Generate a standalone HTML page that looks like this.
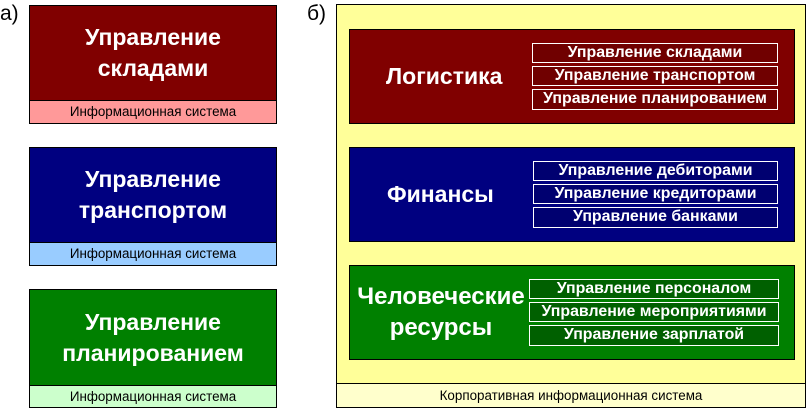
<!DOCTYPE html><html><head><meta charset="utf-8"><style>
body{margin:0;width:807px;height:408px;background:#fff;position:relative;font-family:"Liberation Sans",sans-serif;overflow:hidden}
.a{position:absolute;box-sizing:border-box}
.big{color:#fff;font-weight:bold;font-size:23px;text-align:center;line-height:31px;display:flex;align-items:center;justify-content:center;border:1px solid #000}
.cap{font-size:13.4px;text-align:center;line-height:21px;border:1px solid #000;border-top:none;color:#000}
.sub{color:#fff;font-weight:bold;font-size:15.9px;text-align:center;line-height:17px;border:1px solid #fff;white-space:nowrap}
</style></head><body>
<div class="a" style="left:0;top:2px;font-size:21px">а)</div>
<div class="a" style="left:307px;top:2px;font-size:21px">б)</div>

<div class="a big" style="left:29px;top:5px;width:248px;height:96px;background:#800000">Управление<br>складами</div>
<div class="a cap" style="left:29px;top:100px;width:248px;height:24px;background:#ff9999;border-top:1px solid #000">Информационная система</div>
<div class="a big" style="left:29px;top:147px;width:248px;height:96px;background:#000080">Управление<br>транспортом</div>
<div class="a cap" style="left:29px;top:242px;width:248px;height:24px;background:#99ccff;border-top:1px solid #000">Информационная система</div>
<div class="a big" style="left:29px;top:289px;width:248px;height:97px;background:#008000">Управление<br>планированием</div>
<div class="a cap" style="left:29px;top:385px;width:248px;height:23px;background:#ccffcc;border-top:1px solid #000">Информационная система</div>

<div class="a" style="left:336px;top:4px;width:470px;height:404px;background:#ffff99;border:1px solid #000"></div>
<div class="a cap" style="left:336px;top:383px;width:470px;height:25px;background:#ffffcc;border-top:1px solid #000;line-height:23px">Корпоративная информационная система</div>

<div class="a big" style="left:349px;top:29px;width:446px;height:95px;background:#800000;justify-content:flex-start;padding-left:36px">Логистика</div>
<div class="a sub" style="left:532px;top:43px;width:246px;height:20px;background:#700000">Управление складами</div>
<div class="a sub" style="left:532px;top:66px;width:246px;height:20px;background:#700000">Управление транспортом</div>
<div class="a sub" style="left:532px;top:89px;width:246px;height:21px;background:#700000">Управление планированием</div>

<div class="a big" style="left:349px;top:147px;width:446px;height:95px;background:#000080;justify-content:flex-start;padding-left:37px">Финансы</div>
<div class="a sub" style="left:533px;top:161px;width:245px;height:20px;background:#000070">Управление дебиторами</div>
<div class="a sub" style="left:533px;top:184px;width:245px;height:20px;background:#000070">Управление кредиторами</div>
<div class="a sub" style="left:533px;top:207px;width:245px;height:21px;background:#000070">Управление банками</div>

<div class="a big" style="left:349px;top:265px;width:446px;height:95px;background:#008000;justify-content:flex-start;padding-left:6px;padding-bottom:2px;font-size:24px"><span style="display:inline-block;width:170px">Человеческие<br>ресурсы</span></div>
<div class="a sub" style="left:529px;top:279px;width:250px;height:20px;background:#006000">Управление персоналом</div>
<div class="a sub" style="left:529px;top:302px;width:250px;height:20px;background:#006000">Управление мероприятиями</div>
<div class="a sub" style="left:529px;top:325px;width:250px;height:21px;background:#006000">Управление зарплатой</div>
</body></html>
